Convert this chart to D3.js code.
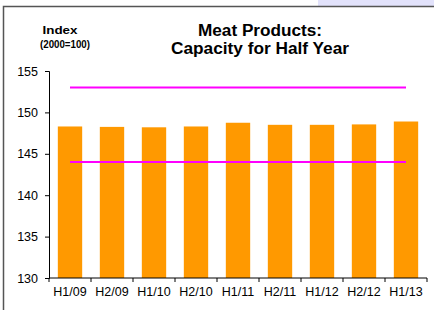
<!DOCTYPE html>
<html>
<head>
<meta charset="utf-8">
<script src="https://cdn.jsdelivr.net/npm/d3@7"></script>
<style>
  body { margin: 0; background: #fff; }
  text { font-family: Arial, "Liberation Sans", sans-serif; fill: #000; }
</style>
</head>
<body>
<div class="graph-container"></div>
<script>
const width = 434,
    height = 310;

// dati
const categories = ["H1/09", "H2/09", "H1/10", "H2/10", "H1/11", "H2/11", "H1/12", "H2/12", "H1/13"];
const capacity = [148.3, 148.25, 148.2, 148.3, 148.75, 148.5, 148.5, 148.55, 148.9];
const upperLine = [153, 153, 153, 153, 153, 153, 153, 153, 153];
const lowerLine = [144, 144, 144, 144, 144, 144, 144, 144, 144];
const yTicks = [130, 135, 140, 145, 150, 155];

const margin = { top: 71, right: 7, bottom: 32, left: 49 };

const svg = d3.select(".graph-container")
    .append("svg")
    .attr("width", width)
    .attr("height", height);

// bordo e fascia in alto a destra
svg.append("rect")
    .attr("x", 318).attr("y", 0)
    .attr("width", width - 318).attr("height", 6)
    .attr("fill", "#e2e2fb");

svg.append("path")
    .attr("d", `M3.5,${height} V6.5 H${width}`)
    .attr("fill", "none")
    .attr("stroke", "#555")
    .attr("stroke-width", 1.5);

const x = d3.scaleBand()
    .domain(categories)
    .range([margin.left, width - margin.right])
    .paddingInner(0.42)
    .paddingOuter(0.21);

const y = d3.scaleLinear()
    .domain([130, 155])
    .range([height - margin.bottom, margin.top]);

// barre
svg.selectAll("rect.bar")
    .data(capacity)
    .join("rect")
    .attr("class", "bar")
    .attr("x", (d, i) => x(categories[i]))
    .attr("y", d => y(d))
    .attr("width", x.bandwidth())
    .attr("height", d => y(130) - y(d))
    .attr("fill", "#ff9900");

// linee magenta
const line = d3.line()
    .x((d, i) => x(categories[i]) + x.bandwidth() / 2)
    .y(d => y(d));

[upperLine, lowerLine].forEach(s => {
    svg.append("path")
        .attr("d", line(s))
        .attr("fill", "none")
        .attr("stroke", "#ff00ff")
        .attr("stroke-width", 2);
});

// assi
const yAxis = svg.append("g")
    .attr("transform", `translate(${margin.left},0)`)
    .call(d3.axisLeft(y).tickValues(yTicks).tickSize(4).tickPadding(7));

yAxis.selectAll("text").style("font-size", "12.5px");
yAxis.select(".domain").attr("stroke", "#000");

const xAxisG = svg.append("g")
    .attr("transform", `translate(0,${y(130)})`);

xAxisG.append("line")
    .attr("x1", margin.left).attr("x2", width - margin.right)
    .attr("stroke", "#000");

const step = x.step();

xAxisG.selectAll("line.tick")
    .data(d3.range(categories.length + 1))
    .join("line")
    .attr("class", "tick")
    .attr("x1", i => margin.left + i * step)
    .attr("x2", i => margin.left + i * step)
    .attr("y1", 0).attr("y2", 4)
    .attr("stroke", "#000");

xAxisG.selectAll("text")
    .data(categories)
    .join("text")
    .attr("x", d => x(d) + x.bandwidth() / 2)
    .attr("y", 18)
    .attr("text-anchor", "middle")
    .style("font-size", "12.5px")
    .text(d => d);

// titoli
const titleGroup = svg.append("g").style("font-weight", "bold");

titleGroup.append("text")
    .text("Meat Products:")
    .attr("x", 260).attr("y", 36)
    .attr("text-anchor", "middle")
    .attr("textLength", 124)
    .attr("lengthAdjust", "spacingAndGlyphs")
    .style("font-size", "16px");

titleGroup.append("text")
    .text("Capacity for Half Year")
    .attr("x", 260).attr("y", 54)
    .attr("text-anchor", "middle")
    .attr("textLength", 178)
    .attr("lengthAdjust", "spacingAndGlyphs")
    .style("font-size", "16px");

titleGroup.append("text")
    .text("Index")
    .attr("x", 60).attr("y", 34)
    .attr("text-anchor", "middle")
    .attr("textLength", 35)
    .attr("lengthAdjust", "spacingAndGlyphs")
    .style("font-size", "11.5px");

titleGroup.append("text")
    .text("(2000=100)")
    .attr("x", 65).attr("y", 48)
    .attr("text-anchor", "middle")
    .attr("textLength", 50)
    .attr("lengthAdjust", "spacingAndGlyphs")
    .style("font-size", "11.5px");
</script>
</body>
</html>
